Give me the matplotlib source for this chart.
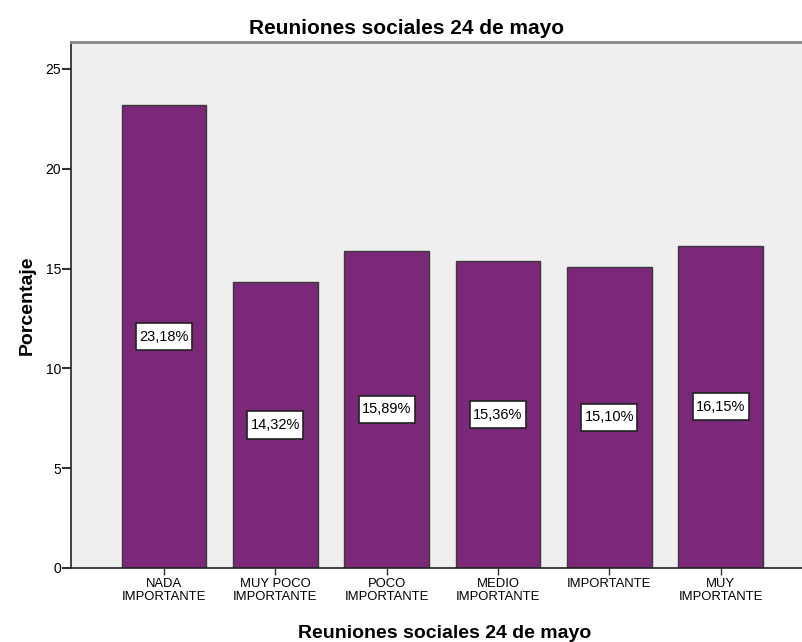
import numpy as np
import matplotlib.pyplot as plt
from matplotlib.path import Path

categorias = ["NADA\nIMPORTANTE", "MUY POCO\nIMPORTANTE", "POCO\nIMPORTANTE",
              "MEDIO\nIMPORTANTE", "IMPORTANTE", "MUY\nIMPORTANTE"]
porcentajes = [23.18, 14.32, 15.89, 15.36, 15.10, 16.15]
etiquetas = ["23,18%", "14,32%", "15,89%", "15,36%", "15,10%", "16,15%"]
yticks = [0, 5, 10, 15, 20, 25]

plt.rcParams['font.family'] = ['Liberation Sans', 'DejaVu Sans']


# caja de etiqueta: poco margen a los lados, mas arriba y abajo
def caja(x0, y0, width, height, mutation_size):
    px = 0.22 * mutation_size
    py = 0.45 * mutation_size
    return Path([(x0 - px, y0 - py), (x0 + width + px, y0 - py),
                 (x0 + width + px, y0 + height + py), (x0 - px, y0 + height + py),
                 (x0 - px, y0 - py)], closed=True)


fig = plt.figure(figsize=(8.03, 6.42), dpi=100)
ax = fig.add_axes([0.0884, 0.1153, 0.9116, 0.8193])
ax.set_facecolor('#efefef')

x = np.arange(len(categorias))
ax.bar(x, porcentajes, width=0.76, color='#7b2879', edgecolor='#3a3a3a', linewidth=1.0, zorder=2)

for xi, v, t in zip(x, porcentajes, etiquetas):
    ax.text(xi, v / 2, t, ha='center', va='center', fontsize=10.5, zorder=3,
            bbox=dict(boxstyle=caja, fc='white', ec='#222222', lw=1.2))

ax.set_xlim(-0.835, 5.74)
ax.set_ylim(0, 26.35)
ax.set_yticks(yticks)
ax.set_xticks(x)
ax.set_xticklabels(categorias, fontsize=9.4, linespacing=1.1)
ax.tick_params(axis='y', labelsize=10, length=6.5, width=1.5, color='#333333', pad=0.5)
ax.tick_params(axis='x', length=5, width=1.0, color='#333333', pad=2)

ax.spines['right'].set_visible(False)
ax.spines['top'].set_color('#888888')
ax.spines['top'].set_linewidth(2)
ax.spines['left'].set_color('#222222')
ax.spines['bottom'].set_color('#222222')
ax.spines['left'].set_linewidth(1.2)
ax.spines['bottom'].set_linewidth(1.2)

ax.set_ylabel("Porcentaje", fontsize=14, fontweight='bold')
ax.yaxis.set_label_coords(-0.048, 0.5)
ax.set_xlabel("Reuniones sociales 24 de mayo", fontsize=14, fontweight='bold')
ax.xaxis.set_label_coords(0.51, -0.109)
ax.set_title("Reuniones sociales 24 de mayo", fontsize=15, fontweight='bold', x=0.459, pad=6)

fig.savefig("out.png", dpi=100)
